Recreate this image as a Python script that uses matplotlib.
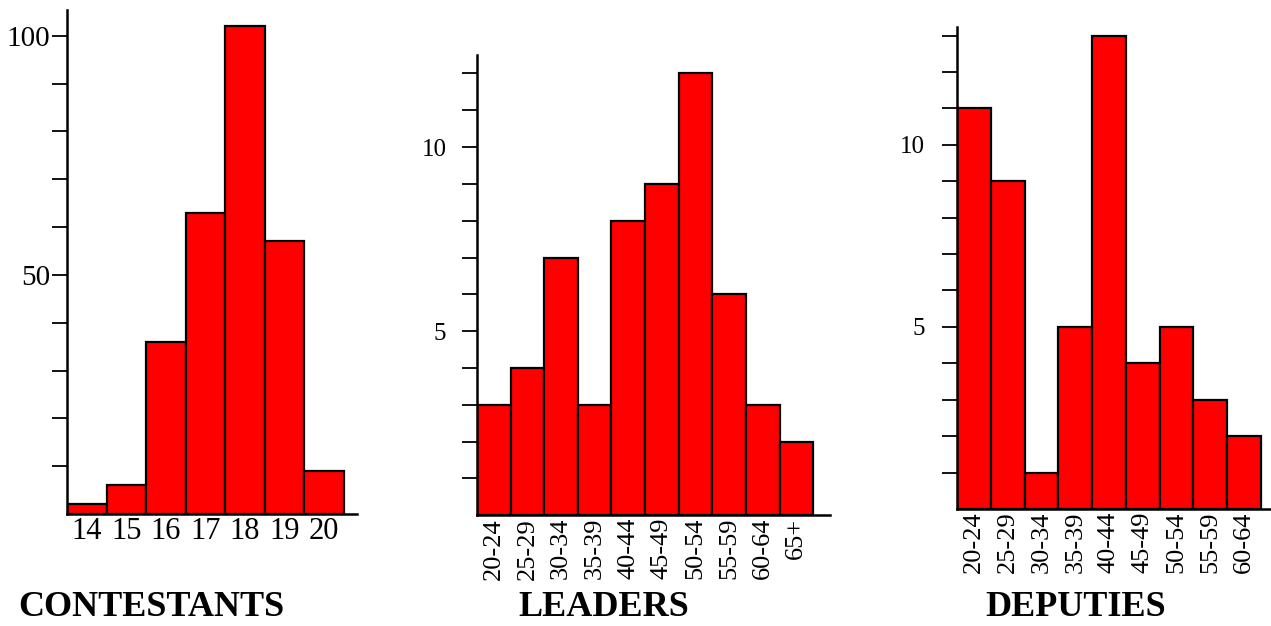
import numpy as np
import matplotlib.pyplot as plt

plt.rcParams['font.family'] = ['Liberation Serif', 'DejaVu Serif']

# data
contestant_ages = ["14", "15", "16", "17", "18", "19", "20"]
contestant_counts = [2, 6, 36, 63, 102, 57, 9]

leader_ages = ["20-24", "25-29", "30-34", "35-39", "40-44", "45-49",
               "50-54", "55-59", "60-64", "65+"]
leader_counts = [3, 4, 7, 3, 8, 9, 12, 6, 3, 2]

deputy_ages = ["20-24", "25-29", "30-34", "35-39", "40-44", "45-49",
               "50-54", "55-59", "60-64"]
deputy_counts = [11, 9, 1, 5, 13, 4, 5, 3, 2]


def draw_hist(ax, labels, counts, xmax, ymax, major, minor,
              xfs, yfs, rot, ypad):
    x = np.arange(len(labels))
    ax.bar(x, counts, width=1.0, align="edge", color="#ff0000",
           edgecolor="black", linewidth=1.6, zorder=2)
    ax.set_xlim(0, xmax)
    ax.set_ylim(0, ymax)
    for s in ["top", "right"]:
        ax.spines[s].set_visible(False)
    for s in ["left", "bottom"]:
        ax.spines[s].set_linewidth(1.8)
        ax.spines[s].set_zorder(3)
    ax.set_xticks(x + 0.5)
    ax.set_xticklabels(labels, rotation=rot, fontsize=xfs)
    ax.tick_params(axis="x", length=0, pad=2)
    ax.set_yticks(major)
    ax.set_yticklabels([str(m) for m in major], fontsize=yfs)
    ax.set_yticks(minor, minor=True)
    ax.tick_params(axis="y", which="both", length=11, width=1.3, pad=ypad,
                   direction="out")


fig = plt.figure(figsize=(12.71, 6.26), dpi=100)

ax1 = fig.add_axes([0.0527, 0.179, 0.228, 0.805])
draw_hist(ax1, contestant_ages, contestant_counts, 7.33, 105.4,
          [50, 100], list(range(10, 101, 10)), 22, 21, 0, 1)

ax2 = fig.add_axes([0.3753, 0.177, 0.2777, 0.735])
draw_hist(ax2, leader_ages, leader_counts, 10.5, 12.5,
          [5, 10], list(range(1, 13)), 19, 18, 90, 11)

ax3 = fig.add_axes([0.753, 0.187, 0.247, 0.770])
draw_hist(ax3, deputy_ages, deputy_counts, 9.3, 13.24,
          [5, 10], list(range(1, 14)), 19, 18, 90, 12)

title_kw = dict(fontsize=26, fontweight="bold", va="baseline", ha="left")
fig.text(18 / 1271, 0.016, "CONTESTANTS", **title_kw)
fig.text(518 / 1271, 0.016, "LEADERS", **title_kw)
fig.text(985 / 1271, 0.016, "DEPUTIES", **title_kw)

fig.savefig("out.png", dpi=100)
